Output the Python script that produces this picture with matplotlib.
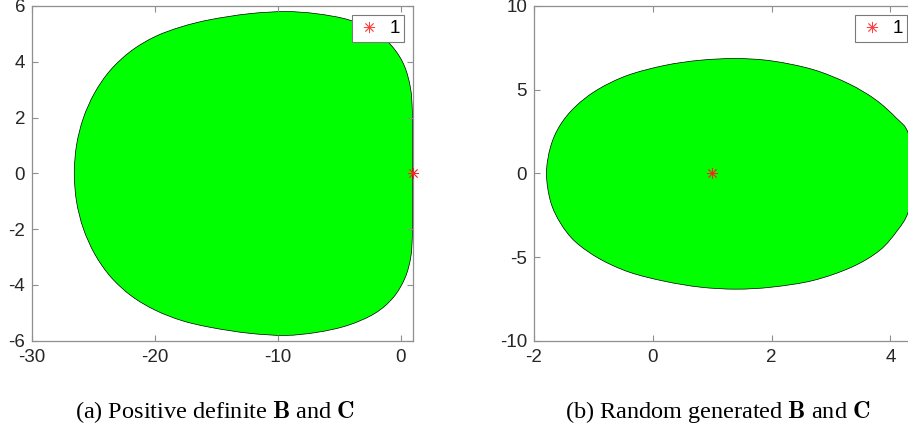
import matplotlib
matplotlib.use("Agg")
import matplotlib.pyplot as plt
from matplotlib.patches import PathPatch
from matplotlib.path import Path
from matplotlib.lines import Line2D

plt.rcParams['font.family'] = ['Liberation Sans', 'DejaVu Sans']
plt.rcParams['mathtext.fontset'] = 'cm'
plt.rcParams['axes.unicode_minus'] = False

# boundary of region (a), going round counter-clockwise
a_x = [0.97, 0.95, 0.80, 0.30, -0.60, -2.00, -4.20, -6.80, -9.40, -12.40,
       -15.50, -17.80, -19.95, -21.90, -23.60, -24.90, -25.83, -26.38, -26.56,
       -26.38, -25.83, -24.90, -23.60, -21.90, -19.95, -17.80, -15.50, -12.40,
       -9.40, -6.80, -4.30, -2.10, -0.60, 0.35, 0.82, 0.95, 0.97]
a_y = [1.20, 2.20, 3.05, 3.85, 4.50, 5.07, 5.50, 5.72, 5.80, 5.72,
       5.51, 5.26, 4.91, 4.40, 3.71, 2.89, 1.97, 1.00, 0.00,
       -1.00, -1.97, -2.89, -3.71, -4.40, -4.91, -5.28, -5.52, -5.73,
       -5.81, -5.70, -5.45, -5.02, -4.45, -3.75, -3.00, -2.20, -1.20]

# boundary of region (b)
b_x = [4.45, 4.30, 4.10, 3.75, 3.30, 2.70, 2.00, 1.40, 0.80, 0.20, -0.43,
       -0.93, -1.30, -1.56, -1.72, -1.79, -1.72, -1.55, -1.30, -0.90, -0.40,
       0.20, 0.80, 1.40, 2.00, 2.70, 3.35, 3.82, 4.12, 4.30]
b_y = [0.00, 2.40, 3.30, 4.40, 5.35, 6.20, 6.72, 6.86, 6.76, 6.45, 5.85,
       5.00, 4.00, 2.88, 1.60, 0.00, -1.70, -3.00, -4.10, -5.10, -5.90,
       -6.45, -6.80, -6.92, -6.80, -6.40, -5.60, -4.60, -3.40, -2.30]

eig_x = [1.0]
eig_y = [0.0]

captions = [r"(a) Positive definite $\mathbf{B}$ and $\mathbf{C}$",
            r"(b) Random generated $\mathbf{B}$ and $\mathbf{C}$"]

W, H = 908, 429
fig = plt.figure(figsize=(W / 100, H / 100), dpi=100)


def px_axes(x0, x1, ytop, ybot):
    return fig.add_axes([x0 / W, 1 - ybot / H, (x1 - x0) / W, (ybot - ytop) / H])


def smooth_path(xs, ys):
    # closed outline through the read points, drawn as cubic curves
    pts = list(zip(xs, ys))
    n = len(pts)
    verts = [pts[0]]
    codes = [Path.MOVETO]
    for i in range(n):
        p0, p1 = pts[i - 1], pts[i]
        p2, p3 = pts[(i + 1) % n], pts[(i + 2) % n]
        c1 = (p1[0] + (p2[0] - p0[0]) / 6, p1[1] + (p2[1] - p0[1]) / 6)
        c2 = (p2[0] - (p3[0] - p1[0]) / 6, p2[1] - (p3[1] - p1[1]) / 6)
        verts += [c1, c2, p2]
        codes += [Path.CURVE4] * 3
    return Path(verts, codes)


ax1 = px_axes(32, 413, 6, 340.7)
ax2 = px_axes(534, 916, 6, 340.7)

spine_col = '#8f8f8f'
text_col = '#262626'


def style(ax):
    for s in ax.spines.values():
        s.set_color(spine_col)
        s.set_linewidth(0.9)
    ax.tick_params(direction='in', length=4, width=0.8, color=spine_col,
                   labelcolor=text_col, labelsize=13.5, top=True, right=True)
    ax.tick_params(axis='x', pad=6)
    ax.tick_params(axis='y', pad=5)


ax1.add_patch(PathPatch(smooth_path(a_x, a_y), facecolor='#00ff00',
                        edgecolor='black', linewidth=0.5))
ax1.plot(eig_x, eig_y, linestyle='none', marker=(8, 2, 0), color='#ff2020',
         markersize=8, markeredgewidth=0.6, clip_on=False, zorder=5)
ax1.set_xlim(-30, 1)
ax1.set_ylim(-6, 6)
ax1.set_xticks([-30, -20, -10, 0])
ax1.set_yticks([-6, -4, -2, 0, 2, 4, 6])
style(ax1)

ax2.add_patch(PathPatch(smooth_path(b_x, b_y), facecolor='#00ff00',
                        edgecolor='black', linewidth=0.5))
ax2.plot(eig_x, eig_y, linestyle='none', marker=(8, 2, 0), color='#ff2020',
         markersize=8, markeredgewidth=0.6, zorder=5)
ax2.set_xlim(-2, 4.43)
ax2.set_ylim(-10, 10)
ax2.set_xticks([-2, 0, 2, 4])
ax2.set_yticks([-10, -5, 0, 5, 10])
style(ax2)

handle = Line2D([], [], linestyle='none', marker=(8, 2, 0), color='#ff4040',
                markersize=8, markeredgewidth=0.6)
for ax, xr in [(ax1, 404.3), (ax2, 907.3)]:
    leg = ax.legend([handle], ['1'], loc='upper right',
                    bbox_to_anchor=(xr / W, 1 - 15.3 / H),
                    bbox_transform=fig.transFigure, borderaxespad=0,
                    fontsize=13.5, frameon=True, fancybox=False, framealpha=1,
                    borderpad=0.25, handlelength=1.3, handletextpad=0.45)
    leg.get_frame().set_edgecolor('#7a7a7a')
    leg.get_frame().set_linewidth(0.8)
    for t in leg.get_texts():
        t.set_color('black')

for cx, cap in zip([215, 718], captions):
    fig.text(cx / W, 1 - 411.7 / H, cap, ha='center', va='center',
             fontsize=17.5, family='Liberation Serif', color='black')

fig.savefig('out.png', dpi=100)
